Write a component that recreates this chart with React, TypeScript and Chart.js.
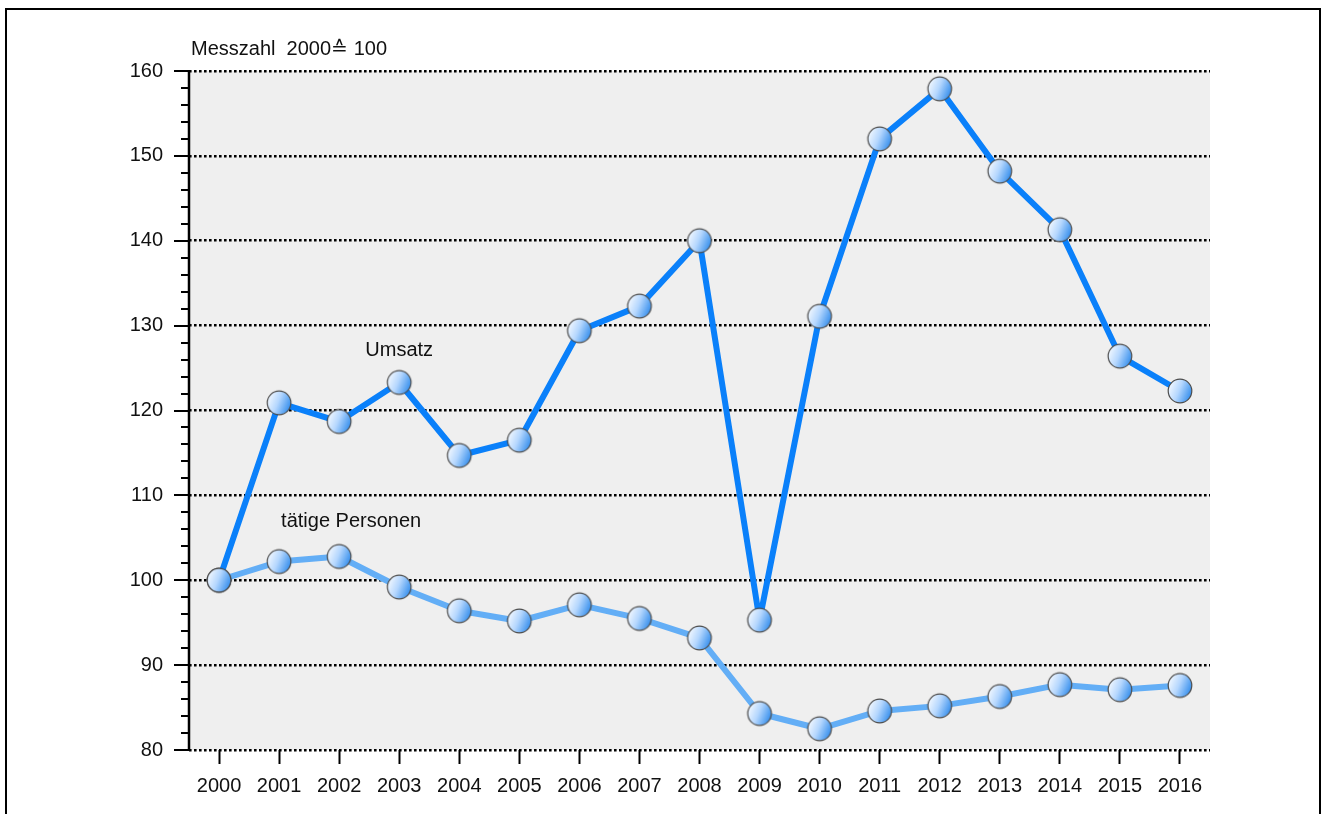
import { useEffect, useRef } from 'react';
import { Chart, registerables } from 'chart.js';

Chart.register(...registerables);

const years = ['2000', '2001', '2002', '2003', '2004', '2005', '2006', '2007', '2008', '2009', '2010', '2011', '2012', '2013', '2014', '2015', '2016'];
const umsatz = [100, 120.9, 118.7, 123.3, 114.7, 116.5, 129.4, 132.3, 140, 95.3, 131.1, 152, 157.9, 148.2, 141.3, 126.4, 122.3];
const personen = [100, 102.2, 102.8, 99.2, 96.4, 95.2, 97.1, 95.5, 93.2, 84.3, 82.5, 84.6, 85.2, 86.3, 87.7, 87.1, 87.6];

const yMin = 80;
const yMax = 160;
const yMajorStep = 10;
const yMinorStep = 2;

const titleText = 'Messzahl  2000\u2259 100';
const seriesNames = ['Umsatz', 'tätige Personen'];
// annotation anchors: [category index, value at text baseline]
const seriesLabelIndex = [3, 2.2];
const seriesLabelValue = [126.4, 106.3];

const FONT = '"Liberation Sans", Arial, Helvetica, sans-serif';
const FONT_SIZE = 20;

function makeMarker(): HTMLCanvasElement {
  const size = 28;
  const c = document.createElement('canvas');
  c.width = size;
  c.height = size;
  const g = c.getContext('2d')!;
  const r = 11.8;
  const cx = size / 2;
  const cy = size / 2;
  const grad = g.createLinearGradient(cx - r, cy - r * 0.4, cx + r, cy + r * 0.4);
  grad.addColorStop(0, '#f4f9ff');
  grad.addColorStop(0.45, '#b5d7fe');
  grad.addColorStop(1, '#2f8bec');
  g.beginPath();
  g.arc(cx, cy, r, 0, Math.PI * 2);
  g.fillStyle = grad;
  g.fill();
  g.lineWidth = 1.2;
  g.strokeStyle = '#4d4d4d';
  g.stroke();
  return c;
}

const decorPlugin = {
  id: 'decor',
  beforeDraw(chart: any) {
    const { ctx, chartArea } = chart;
    ctx.save();
    ctx.fillStyle = '#efefef';
    ctx.fillRect(chartArea.left, chartArea.top, chartArea.right - chartArea.left, chartArea.bottom - chartArea.top);
    ctx.restore();
  },
  afterDraw(chart: any) {
    const { ctx, chartArea } = chart;
    const ys = chart.scales.y;
    const xs = chart.scales.x;
    ctx.save();
    // y axis line
    ctx.strokeStyle = '#000';
    ctx.lineWidth = 2.5;
    ctx.beginPath();
    ctx.moveTo(chartArea.left, ys.getPixelForValue(yMax) - 1);
    ctx.lineTo(chartArea.left, ys.getPixelForValue(yMin) + 1);
    ctx.stroke();
    // y ticks (major + minor)
    ctx.lineWidth = 2;
    for (let v = yMin; v <= yMax; v += yMinorStep) {
      const py = Math.round(ys.getPixelForValue(v));
      const len = v % yMajorStep === 0 ? 15 : 8;
      ctx.beginPath();
      ctx.moveTo(chartArea.left - len, py);
      ctx.lineTo(chartArea.left, py);
      ctx.stroke();
    }
    // title
    ctx.fillStyle = '#111';
    ctx.font = `${FONT_SIZE}px ${FONT}`;
    ctx.textAlign = 'left';
    ctx.textBaseline = 'alphabetic';
    ctx.fillText(titleText, chartArea.left + 2, 55);
    // series annotations
    ctx.textAlign = 'center';
    for (let i = 0; i < seriesNames.length; i++) {
      ctx.fillText(seriesNames[i], xs.getPixelForValue(seriesLabelIndex[i]), ys.getPixelForValue(seriesLabelValue[i]));
    }
    ctx.restore();
  },
};

export default function App() {
  const ref = useRef<HTMLCanvasElement>(null);

  useEffect(() => {
    if (!ref.current) return;
    const marker = makeMarker();
    const chart = new Chart(ref.current, {
      type: 'line',
      data: {
        labels: years,
        datasets: [
          {
            label: seriesNames[0],
            data: umsatz,
            borderColor: '#0a80fa',
            borderWidth: 6,
            borderJoinStyle: 'round',
            pointStyle: marker as any,
            pointRadius: 12,
            tension: 0,
            clip: false as any,
          },
          {
            label: seriesNames[1],
            data: personen,
            borderColor: '#63aef6',
            borderWidth: 6,
            borderJoinStyle: 'round',
            pointStyle: marker as any,
            pointRadius: 12,
            tension: 0,
            clip: false as any,
          },
        ],
      },
      options: {
        responsive: false,
        animation: false,
        devicePixelRatio: 1,
        layout: { padding: { top: 71, left: 0, right: 113, bottom: 0 } },
        plugins: {
          legend: { display: false },
          tooltip: { enabled: false },
          title: { display: false },
        },
        scales: {
          x: {
            type: 'category',
            offset: true,
            afterFit(scale: any) {
              scale.height = 64;
              scale.paddingLeft = 0;
              scale.paddingRight = 0;
            },
            grid: {
              display: true,
              drawOnChartArea: false,
              drawTicks: true,
              tickLength: 14,
              tickColor: '#000',
              tickWidth: 2,
              color: 'rgba(0,0,0,0)',
            },
            border: { display: false },
            ticks: {
              color: '#111',
              font: { family: FONT, size: FONT_SIZE },
              padding: 10,
              maxRotation: 0,
              autoSkip: false,
            },
          },
          y: {
            min: yMin,
            max: yMax,
            afterFit(scale: any) {
              scale.width = 189;
              scale.paddingTop = 0;
              scale.paddingBottom = 0;
            },
            grid: {
              display: true,
              drawOnChartArea: true,
              drawTicks: true,
              tickLength: 15,
              tickColor: 'rgba(0,0,0,0)',
              lineWidth: 2.6,
              color: (c: any) => (c.tick && c.tick.value % yMajorStep === 0 ? '#000' : 'rgba(0,0,0,0)'),
            },
            border: { display: false, dash: [2.6, 2.4] },
            ticks: {
              stepSize: yMinorStep,
              color: '#111',
              font: { family: FONT, size: FONT_SIZE },
              padding: 11,
              autoSkip: false,
              callback: (v: any) => (Number(v) % yMajorStep === 0 ? String(v) : ''),
            },
          },
        },
      },
      plugins: [decorPlugin],
    });
    return () => chart.destroy();
  }, []);

  return (
    <div style={{ position: 'fixed', left: 0, top: 0, width: 1323, height: 814, overflow: 'hidden', background: '#fff' }}>
      <div
        style={{
          position: 'absolute',
          left: 5,
          top: 8,
          width: 1316,
          height: 900,
          border: '2px solid #000',
          boxSizing: 'border-box',
        }}
      />
      <canvas ref={ref} width={1323} height={814} style={{ position: 'absolute', left: 0, top: 0, width: 1323, height: 814 }} />
    </div>
  );
}
